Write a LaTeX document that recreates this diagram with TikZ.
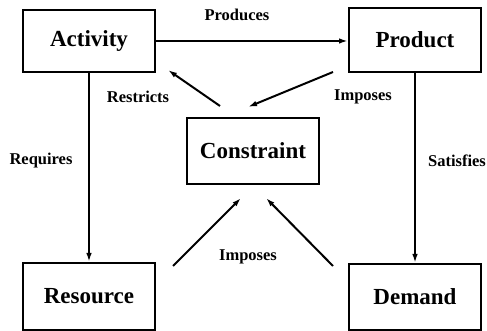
\documentclass[tikz,border=0pt]{standalone}
\usepackage{fontspec}
\setmainfont{Liberation Serif}
\usetikzlibrary{arrows.meta}
\begin{document}
\begin{tikzpicture}[x=1pt,y=1pt,
  box/.style={draw,line width=2pt,minimum width=#1,inner sep=0pt,font=\fontsize{23}{26}\selectfont\bfseries},
  lbl/.style={inner sep=0pt,font=\fontsize{16.5}{19}\selectfont\bfseries},
  conn/.style={line width=2pt,-{Latex[length=9pt,width=5.5pt]}}]
\useasboundingbox (0,0) rectangle (487,331);
\node[box=132pt,minimum height=62pt] (act) at (89,290) {Activity};
\node[box=132pt,minimum height=64pt] (prod) at (415,291) {Product};
\node[box=132pt,minimum height=66pt] (con) at (253,180) {Constraint};
\node[box=132pt,minimum height=67pt] (res) at (89,34.5) {Resource};
\node[box=132pt,minimum height=66pt] (dem) at (415,34) {Demand};
\coordinate (c1s) at (220,225); \coordinate (c1e) at (168,261);
\coordinate (c2s) at (333,259); \coordinate (c2e) at (248,224);
\coordinate (c3s) at (173,65);  \coordinate (c3e) at (241,133);
\coordinate (c4s) at (333,65);  \coordinate (c4e) at (266,133);
\draw[conn] (act.east) -- (act.east -| prod.west);
\draw[conn] (act.south) -- (act.south |- res.north);
\draw[conn] (prod.south) -- (prod.south |- dem.north);
\draw[conn] (c1s) -- (c1e);
\draw[conn] (c2s) -- (c2e);
\draw[conn] (c3s) -- (c3e);
\draw[conn] (c4s) -- (c4e);
\node[lbl] (lprod) at (237,316) {Produces};
\node[lbl] (lres) at (138,234) {Restricts};
\node[lbl] (limp1) at (363,234) {Imposes};
\node[lbl] (lreq) at (41,170) {Requires};
\node[lbl] (lsat) at (457,170) {Satisfies};
\node[lbl] (limp2) at (248,74) {Imposes};
\end{tikzpicture}
\end{document}
